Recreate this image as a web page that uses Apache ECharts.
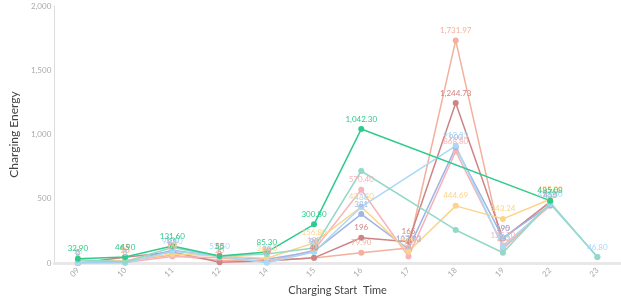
<!DOCTYPE html>
<html>
<head>
<meta charset="utf-8">
<script src="https://cdn.jsdelivr.net/npm/echarts@6/dist/echarts.min.js"></script>
<style>
    html, body { margin: 0; padding: 0; background: #fff; }
    #main { width: 621px; height: 302px; }
</style>
</head>
<body>
<div id="main"></div>
<script>
var hours = ['09', '10', '11', '12', '14', '15', '16', '17', '18', '19', '22', '23'];
var yTicks = [0, 500, 1000, 1500, 2000];

var salmonData = [0, 20, 60, 20, 20, 38, 79.9, 117.03, 1731.97, 110, 455, null];
var roseData = [0, 45, 85, 5, 15, 40, 196, 165, 1244.73, 190, 475, null];
var pinkData = [2, 3, 50, 40, 10, 100, 570.4, 50, 868.8, 135.7, 445, null];
var periData = [5, 5, 100, 50, 30, 90, 381, 107.73, 900, 195, 450, null];
var orangeData = [15, 20, 70, 55, 36.6, 156.8, 437.8, 90, 444.69, 343.24, 495.8, null];
var lblueData = [0, 0, 90.6, 52.5, 2, 85, 436, null, 912.33, 125, 458.3, 46.8];
var tealData = [25, 10, 120, 52.5, 70, 117, 716, null, 257, 79.7, 470, 46.8];
var greenData = [32.9, 46.9, 131.6, 55, 85.3, 300.8, 1042.3, null, null, null, 485.08, null];

var chart = echarts.init(document.getElementById('main'));

function fmt(p) {
    var v = p.value;
    if (v == null) return '';
    if (Math.round(v) === v) return v.toLocaleString('en-US');
    return v.toLocaleString('en-US', { minimumFractionDigits: 2, maximumFractionDigits: 2 });
}

function line(name, color, data, showLabel) {
    return {
        name: name,
        type: 'line',
        data: data,
        connectNulls: true,
        symbol: 'circle',
        symbolSize: 6,
        lineStyle: { width: 1.5, color: color },
        itemStyle: { color: color },
        label: {
            show: showLabel,
            position: 'top',
            distance: 3,
            fontSize: 8,
            color: color,
            formatter: fmt
        },
        labelLayout: { moveOverlap: 'shiftY' }
    };
}

var option = {
    backgroundColor: '#fff',
    textStyle: { fontFamily: 'Lato, "DejaVu Sans", sans-serif' },
    animation: false,
    grid: { left: 44, right: 0, top: 6, bottom: 39 },
    xAxis: {
        type: 'category',
        data: hours,
        name: 'Charging Start  Time',
        nameLocation: 'middle',
        nameGap: 15,
        nameTextStyle: { color: '#444', fontSize: 11 },
        axisLine: { lineStyle: { color: '#e8e8e8', width: 3 } },
        axisTick: { show: false },
        axisLabel: { rotate: 45, color: '#aaa', fontSize: 8, margin: 6 }
    },
    yAxis: {
        type: 'value',
        min: 0,
        max: yTicks[yTicks.length - 1],
        interval: yTicks[1] - yTicks[0],
        name: 'Charging Energy',
        nameLocation: 'middle',
        nameGap: 31,
        nameTextStyle: { color: '#444', fontSize: 12 },
        axisLine: { show: true, lineStyle: { color: '#ddd', width: 1 } },
        axisTick: { show: false },
        splitLine: { show: false },
        axisLabel: { color: '#aaa', fontSize: 8, margin: 3 }
    },
    series: [
        line('salmon', '#f3b09c', salmonData, true),
        line('rose', '#cf8484', roseData, true),
        line('pink', '#f6b4b9', pinkData, true),
        line('peri', '#9fb5e4', periData, true),
        line('orange', '#fdd389', orangeData, true),
        line('lblue', '#a9d9f6', lblueData, true),
        line('teal', '#92d9c7', tealData, false),
        line('green', '#2ecb8d', greenData, true)
    ]
};

chart.setOption(option);
</script>
</body>
</html>
